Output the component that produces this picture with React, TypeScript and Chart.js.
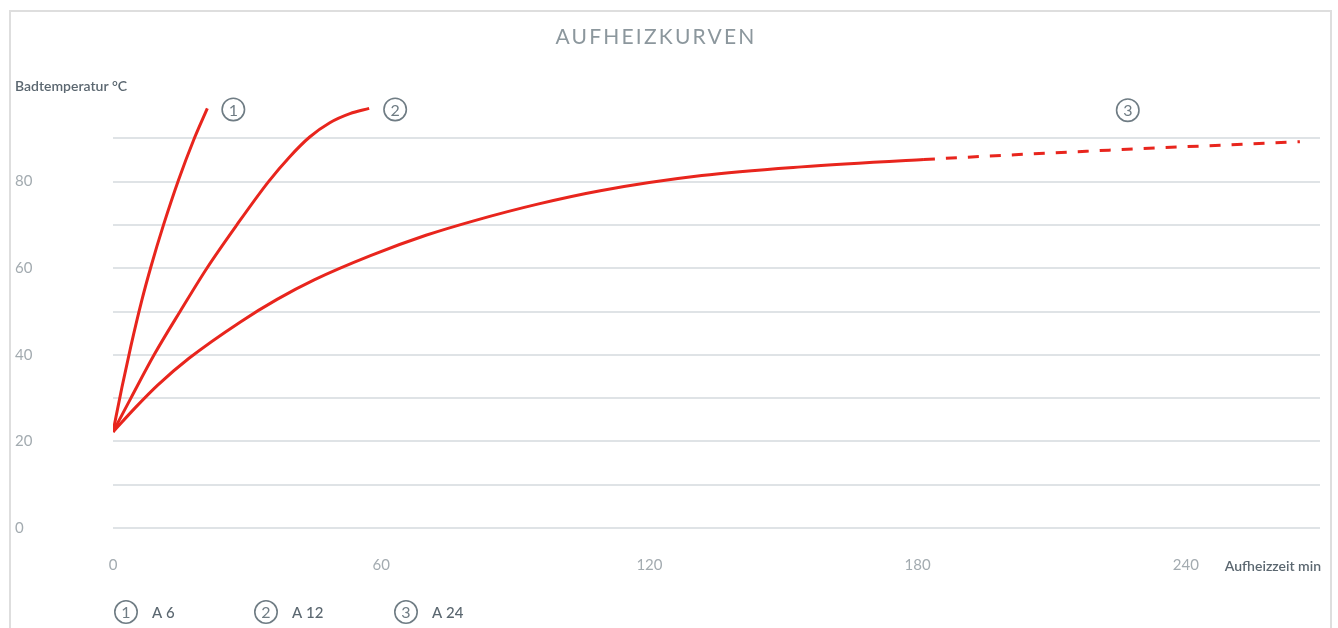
import React, { useEffect, useRef } from "react";
import { Chart, registerables } from "chart.js";

Chart.register(...registerables);

// ---- data ----
const chartTitle = "AUFHEIZKURVEN";
const yAxisTitle = "Badtemperatur °C";
const xAxisTitle = "Aufheizzeit min";
const seriesNames = ["A 6", "A 12", "A 24"];
const seriesNumbers = ["1", "2", "3"];

const a6Time = [0, 2, 4, 6.4, 8.5, 11.3, 14.7, 18, 21.1];
const a6Temp = [22.2, 32.5, 42, 52.4, 60.4, 70, 80.5, 89.5, 96.9];

const a12Time = [0, 4, 9.2, 15, 21, 27.7, 34.8, 39.5, 44, 48.5, 53, 57.3];
const a12Temp = [22.2, 30, 40, 50, 60, 70, 80, 85.7, 90.3, 93.6, 95.7, 96.9];

const a24Time = [0, 5, 10, 17, 28.5, 36.7, 45, 57.6, 70, 80.9, 95, 109, 131.7, 154, 181.4, 223.6, 265.5];
const a24Temp = [22.2, 27.8, 33, 39.2, 47.6, 52.8, 57.3, 62.9, 67.6, 71.0, 74.8, 77.9, 81.4, 83.4, 85.1, 87.3, 89.2];

const a24DashedFrom = 180; // minutes: extrapolated part drawn dashed
const a24LabelAt = [227, 96.5]; // label ③ anchor (min, °C)

const xTicks = [0, 60, 120, 180, 240];
const yLabelTicks = [0, 20, 40, 60, 80];
const yGridMax = 90;

const RED = "#e8251d";
const GRID = "#dfe3e6";
const TICK = "#a3abb0";
const DARK = "#5b6770";
const CIRCLE = "#6f7c84";

function toPoints(t: number[], v: number[]) {
  return t.map((x, i) => ({ x, y: v[i] }));
}

function drawCircleNum(ctx: CanvasRenderingContext2D, cx: number, cy: number, num: string) {
  ctx.save();
  ctx.beginPath();
  ctx.arc(cx, cy, 11.2, 0, Math.PI * 2);
  ctx.strokeStyle = CIRCLE;
  ctx.lineWidth = 1.6;
  ctx.stroke();
  ctx.fillStyle = CIRCLE;
  ctx.font = "400 16px Lato";
  ctx.textAlign = "center";
  ctx.textBaseline = "middle";
  ctx.fillText(num, cx, cy + 1);
  ctx.restore();
}

const decorPlugin = {
  id: "decor",
  beforeDraw(chart: any) {
    const ctx = chart.ctx as CanvasRenderingContext2D;
    ctx.save();
    ctx.strokeStyle = "#dedede";
    ctx.lineWidth = 2;
    ctx.beginPath();
    ctx.moveTo(10, 640);
    ctx.lineTo(10, 11);
    ctx.lineTo(1331, 11);
    ctx.lineTo(1331, 640);
    ctx.stroke();
    ctx.restore();
  },
  afterDraw(chart: any) {
    const ctx = chart.ctx as CanvasRenderingContext2D;
    const xs = chart.scales.x;
    const ys = chart.scales.y;
    ctx.save();
    // title
    ctx.fillStyle = "#8c979d";
    ctx.font = "400 21px Lato";
    (ctx as any).letterSpacing = "2.2px";
    ctx.textAlign = "center";
    ctx.textBaseline = "middle";
    ctx.fillText(chartTitle, 656, 37);
    (ctx as any).letterSpacing = "0px";
    // axis titles
    ctx.fillStyle = DARK;
    ctx.font = "600 14px Lato";
    ctx.textAlign = "left";
    ctx.fillText(yAxisTitle, 15, 86);
    ctx.textAlign = "right";
    ctx.fillText(xAxisTitle, 1321, 566);
    ctx.restore();

    // curve labels
    for (let i = 0; i < 2; i++) {
      const meta = chart.getDatasetMeta(i);
      const last = meta.data[meta.data.length - 1];
      drawCircleNum(ctx, last.x + 26, last.y + 1, seriesNumbers[i]);
    }
    drawCircleNum(ctx, xs.getPixelForValue(a24LabelAt[0]), ys.getPixelForValue(a24LabelAt[1]), seriesNumbers[2]);

    // legend
    seriesNames.forEach((name, i) => {
      const cx = 126 + i * 140;
      drawCircleNum(ctx, cx, 612, seriesNumbers[i]);
      ctx.save();
      ctx.fillStyle = DARK;
      ctx.font = "500 15px Lato";
      ctx.textAlign = "left";
      ctx.textBaseline = "middle";
      ctx.fillText(name, cx + 26, 613);
      ctx.restore();
    });
  },
};

export default function App() {
  const ref = useRef<HTMLCanvasElement | null>(null);
  useEffect(() => {
    if (!ref.current) return;
    const lineBase = {
      borderColor: RED,
      borderWidth: 3,
      pointRadius: 0,
      fill: false,
      cubicInterpolationMode: "monotone" as const,
    };
    const chart = new Chart(ref.current, {
      type: "line",
      data: {
        datasets: [
          { ...lineBase, label: seriesNames[0], data: toPoints(a6Time, a6Temp) },
          { ...lineBase, label: seriesNames[1], data: toPoints(a12Time, a12Temp) },
          {
            ...lineBase,
            label: seriesNames[2],
            data: toPoints(a24Time, a24Temp),
            segment: {
              borderDash: (c: any) => (c.p0.parsed.x >= a24DashedFrom ? [11, 11] : undefined),
            },
          },
        ],
      },
      options: {
        animation: false,
        responsive: false,
        events: [],
        layout: { padding: { left: 15, top: 95, right: 18, bottom: 50 } },
        plugins: { legend: { display: false }, tooltip: { enabled: false }, title: { display: false } },
        scales: {
          x: {
            type: "linear",
            min: 0,
            max: 270,
            afterBuildTicks: (s: any) => {
              s.ticks = xTicks.map((v) => ({ value: v }));
            },
            afterFit: (s: any) => {
              s.height = 50;
            },
            grid: { display: false, drawTicks: false },
            border: { display: false },
            ticks: { color: TICK, font: { family: "Lato", size: 15 }, padding: 28, maxRotation: 0 },
          },
          y: {
            type: "linear",
            min: 0,
            max: 100,
            afterBuildTicks: (s: any) => {
              const t = [];
              for (let v = 0; v <= yGridMax; v += 10) t.push({ value: v });
              s.ticks = t;
            },
            afterFit: (s: any) => {
              s.width = 98;
            },
            grid: { color: GRID, lineWidth: 2, drawTicks: false },
            border: { display: false },
            ticks: {
              color: TICK,
              font: { family: "Lato", size: 15 },
              crossAlign: "far",
              callback: (v: any) => (yLabelTicks.includes(Number(v)) ? String(v) : ""),
            },
          },
        },
      },
      plugins: [decorPlugin],
    });
    return () => chart.destroy();
  }, []);
  return (
    <div style={{ position: "fixed", left: 0, top: 0, width: 1338, height: 628, overflow: "hidden", background: "#fff" }}>
      <canvas ref={ref} width={1338} height={628} style={{ width: 1338, height: 628, display: "block" }} />
    </div>
  );
}
